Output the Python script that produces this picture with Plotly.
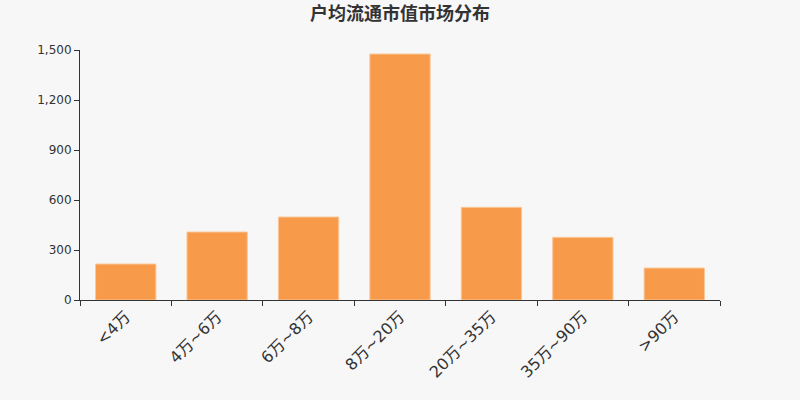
import plotly.graph_objects as go

categories = ["<4万", "4万~6万", "6万~8万", "8万~20万", "20万~35万", "35万~90万", ">90万"]
counts = [216, 408, 498, 1476, 556, 376, 192]
y_ticks = [0, 300, 600, 900, 1200, 1500]

fig = go.Figure()
fig.add_trace(
    go.Bar(
        x=categories,
        y=counts,
        marker={"color": "#f79a49", "line": {"color": "#fbc89a", "width": 1}},
        hoverinfo="x+y",
    )
)
fig.update_layout(
    width=800,
    height=400,
    paper_bgcolor="#f7f7f7",
    plot_bgcolor="#f7f7f7",
    font={"family": "DejaVu Sans, Noto Sans CJK SC, sans-serif", "color": "#333333"},
    title={
        "text": "户均流通市值市场分布",
        "x": 0.5,
        "xanchor": "center",
        "y": 0.965,
        "yanchor": "middle",
        "font": {"family": "Noto Sans CJK SC, sans-serif", "size": 18, "color": "#333333", "weight": 600},
    },
    margin={"l": 80, "r": 80, "t": 50, "b": 100},
    bargap=0.34,
    showlegend=False,
)
fig.update_xaxes(
    showline=True,
    linecolor="#333333",
    linewidth=1,
    ticks="outside",
    tickson="boundaries",
    ticklen=5,
    tickcolor="#333333",
    tickangle=-45,
    tickfont={"size": 16, "color": "#333333"},
    showgrid=False,
)
fig.update_yaxes(
    range=[0, 1500],
    tickvals=y_ticks,
    tickformat=",",
    showline=True,
    linecolor="#333333",
    linewidth=1,
    ticks="outside",
    ticklen=5,
    tickcolor="#333333",
    tickfont={"size": 12, "color": "#333333"},
    showgrid=False,
    zeroline=False,
)
# drop the default page margin so the figure sits at the window origin
fig.write_html(
    "out.html",
    config={"displayModeBar": False},
    post_script="document.body.style.margin='0';",
)
